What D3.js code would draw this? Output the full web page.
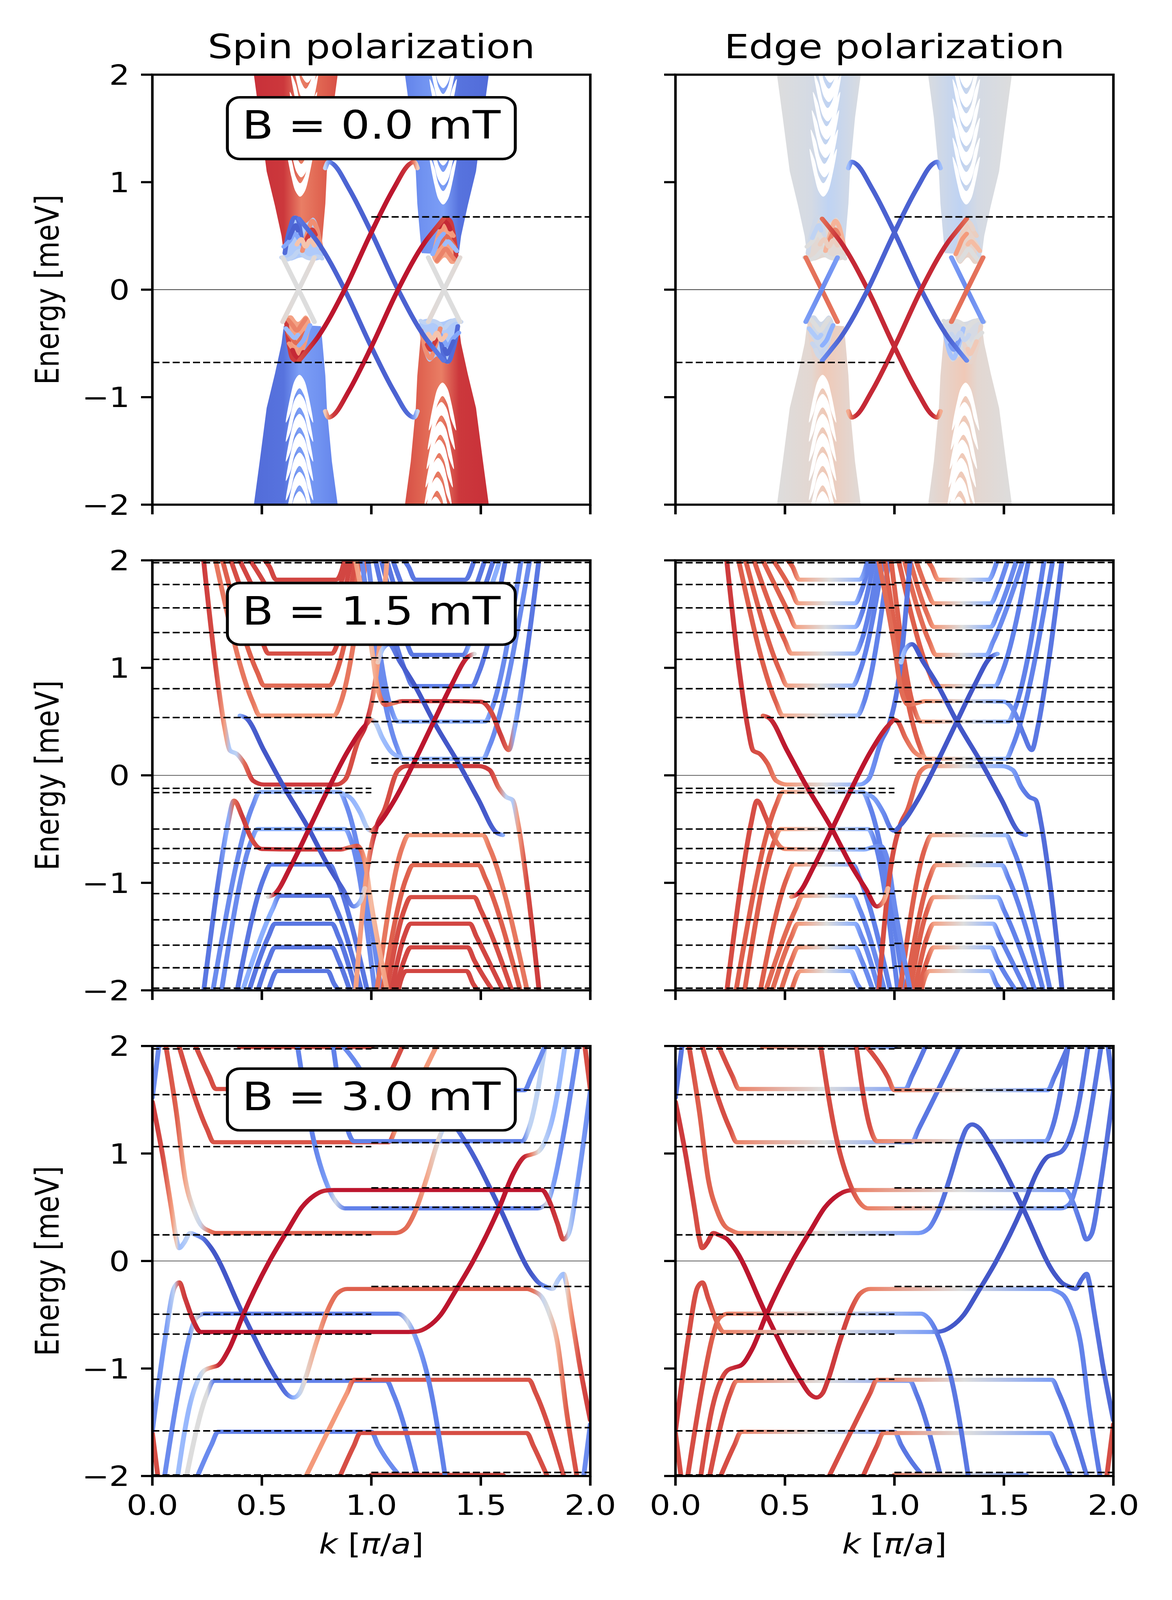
<!doctype html>
<html lang="en">
<head>
<meta charset="utf-8">
<title>Spin and edge polarization</title>
<script src="https://cdn.jsdelivr.net/npm/d3@7"></script>
<style>
  html, body { margin: 0; padding: 0; background: #fff; overflow: hidden; }
  svg { display: block; }
  text { font-family: "DejaVu Sans", sans-serif; }
</style>
</head>
<body>
<script>
// ---------- labels ----------
var columnTitles = ["Spin polarization", "Edge polarization"];
var fieldLabels = ["B = 0.0 mT", "B = 1.5 mT", "B = 3.0 mT"];
var kTicks = [0, 0.5, 1, 1.5, 2];
var kTickLabels = ["0.0", "0.5", "1.0", "1.5", "2.0"];
var eTicks = [2, 1, 0, -1, -2];
var eTickLabels = ["2", "1", "0", "\u22121", "\u22122"];

// every band point is [k, E, spin polarization, edge polarization]

// ---------- B = 0.0 mT ----------
var b00DashLeft = [-0.677];
var b00DashRight = [0.677];
// bulk wedges: top-left, bottom-left, top-right, bottom-right
var b00WedgePolys = [
  [[0.457,2.1],[0.49,1.6],[0.522,1.1],[0.56,0.78],[0.59,0.5],[0.60,0.34],[0.685,0.33],[0.77,0.34],[0.778,0.52],[0.79,0.8],[0.797,1.1],[0.82,1.6],[0.853,2.1]],
  [[0.457,-2.1],[0.49,-1.6],[0.522,-1.1],[0.56,-0.78],[0.59,-0.5],[0.60,-0.34],[0.685,-0.33],[0.77,-0.34],[0.778,-0.52],[0.79,-0.8],[0.797,-1.1],[0.82,-1.6],[0.853,-2.1]],
  [[1.147,2.1],[1.18,1.6],[1.203,1.1],[1.21,0.8],[1.222,0.52],[1.23,0.34],[1.315,0.33],[1.40,0.34],[1.41,0.5],[1.44,0.78],[1.478,1.1],[1.51,1.6],[1.543,2.1]],
  [[1.147,-2.1],[1.18,-1.6],[1.203,-1.1],[1.21,-0.8],[1.222,-0.52],[1.23,-0.34],[1.315,-0.33],[1.40,-0.34],[1.41,-0.5],[1.44,-0.78],[1.478,-1.1],[1.51,-1.6],[1.543,-2.1]]
];
var b00WedgeSpin = [
  [[0.457,0.88],[0.60,0.86],[0.68,0.62],[0.76,0.72],[0.853,0.8]],
  [[0.457,-0.85],[0.60,-0.82],[0.67,-0.6],[0.76,-0.66],[0.853,-0.75]],
  [[1.147,-0.75],[1.24,-0.66],[1.33,-0.6],[1.40,-0.82],[1.543,-0.85]],
  [[1.147,0.8],[1.24,0.72],[1.32,0.62],[1.40,0.86],[1.543,0.88]]
];
var b00WedgeEdge = [
  [[0.457,0],[0.62,-0.06],[0.70,-0.2],[0.853,-0.02]],
  [[0.457,0],[0.62,0.06],[0.68,0.2],[0.853,0.02]],
  [[1.147,-0.02],[1.30,-0.2],[1.38,-0.06],[1.543,0]],
  [[1.147,0.02],[1.32,0.2],[1.38,0.06],[1.543,0]]
];
// subband minima / maxima inside each wedge [k, E]
var b00Arcs = [
  [[0.675,0.83],[0.68,1.01],[0.685,1.19],[0.69,1.36],[0.695,1.53],[0.70,1.71],[0.707,1.89]],
  [[0.672,-0.757],[0.672,-0.935],[0.672,-1.12],[0.672,-1.30],[0.672,-1.48],[0.672,-1.66],[0.672,-1.84]],
  [[1.328,0.757],[1.328,0.935],[1.328,1.12],[1.328,1.30],[1.328,1.48],[1.328,1.66],[1.328,1.84]],
  [[1.325,-0.83],[1.32,-1.01],[1.315,-1.19],[1.31,-1.36],[1.305,-1.53],[1.30,-1.71],[1.293,-1.89]]
];
// mixed-state pockets at the wedge tips, with their spin / edge colour
var b00Blobs = [
  [[0.598,0.30],[0.61,0.45],[0.63,0.60],[0.648,0.69],[0.672,0.67],[0.70,0.62],[0.735,0.67],[0.76,0.58],[0.775,0.42],[0.778,0.30],[0.74,0.27],[0.68,0.30],[0.63,0.27]],
  [[0.607,-0.26],[0.612,-0.42],[0.628,-0.58],[0.645,-0.67],[0.665,-0.67],[0.69,-0.58],[0.712,-0.45],[0.722,-0.30],[0.70,-0.24],[0.665,-0.30],[0.635,-0.24]],
  [[1.393,0.26],[1.388,0.42],[1.372,0.58],[1.355,0.67],[1.335,0.67],[1.31,0.58],[1.288,0.45],[1.278,0.30],[1.30,0.24],[1.335,0.30],[1.365,0.24]],
  [[1.402,-0.30],[1.39,-0.45],[1.37,-0.60],[1.352,-0.69],[1.328,-0.67],[1.30,-0.62],[1.265,-0.67],[1.24,-0.58],[1.225,-0.42],[1.222,-0.30],[1.26,-0.27],[1.32,-0.30],[1.37,-0.27]]
];
var b00BlobSpin = [-0.3, 0.45, 0.45, -0.3];
var b00BlobEdge = [0.05, -0.1, 0.1, -0.05];
// loops inside the pockets: [spin, edge, points]
var b00Loops = [
  [-0.2, 0.0, [[0.59,0.30],[0.615,0.28],[0.645,0.31],[0.67,0.36],[0.695,0.31],[0.72,0.29],[0.75,0.31],[0.775,0.29]]],
  [-0.85, -0.1, [[0.605,0.34],[0.615,0.46],[0.63,0.58],[0.648,0.67],[0.663,0.66],[0.675,0.55],[0.685,0.42]]],
  [-0.55, 0.0, [[0.60,0.40],[0.625,0.45],[0.65,0.52],[0.67,0.47],[0.69,0.40]]],
  [-0.9, -0.2, [[0.625,0.48],[0.64,0.55],[0.655,0.60],[0.665,0.55]]],
  [0.55, 0.35, [[0.685,0.36],[0.70,0.47],[0.715,0.57],[0.73,0.64],[0.745,0.60],[0.76,0.49],[0.772,0.38]]],
  [0.85, 0.6, [[0.70,0.44],[0.715,0.51],[0.73,0.56],[0.745,0.51]]],
  [0.25, 0.15, [[0.66,0.42],[0.68,0.47],[0.70,0.40],[0.72,0.46],[0.74,0.41]]],
  [0.85, 0.1, [[0.612,-0.30],[0.618,-0.42],[0.628,-0.55],[0.64,-0.64],[0.655,-0.66],[0.665,-0.60]]],
  [0.6, 0.0, [[0.62,-0.28],[0.64,-0.33],[0.66,-0.38],[0.68,-0.33],[0.70,-0.27]]],
  [0.7, -0.1, [[0.62,-0.40],[0.64,-0.46],[0.66,-0.50],[0.68,-0.45],[0.70,-0.40]]],
  [0.5, -0.15, [[0.625,-0.50],[0.645,-0.56],[0.66,-0.60],[0.68,-0.55],[0.695,-0.50]]],
  [-0.4, -0.3, [[0.61,-0.36],[0.63,-0.41],[0.65,-0.45],[0.665,-0.42]]],
  [-0.5, -0.5, [[0.67,-0.52],[0.69,-0.47],[0.705,-0.40],[0.72,-0.33]]],
  [0.9, -0.1, [[0.64,-0.56],[0.655,-0.62],[0.672,-0.64],[0.69,-0.58]]],
  [0.85, -0.1, [[1.388,0.30],[1.382,0.42],[1.372,0.55],[1.36,0.64],[1.345,0.66],[1.335,0.60]]],
  [0.6, 0.0, [[1.38,0.28],[1.36,0.33],[1.34,0.38],[1.32,0.33],[1.30,0.27]]],
  [0.7, 0.1, [[1.38,0.40],[1.36,0.46],[1.34,0.50],[1.32,0.45],[1.30,0.40]]],
  [0.5, 0.15, [[1.375,0.50],[1.355,0.56],[1.34,0.60],[1.32,0.55],[1.305,0.50]]],
  [-0.4, 0.3, [[1.39,0.36],[1.37,0.41],[1.35,0.45],[1.335,0.42]]],
  [-0.5, 0.5, [[1.33,0.52],[1.31,0.47],[1.295,0.40],[1.28,0.33]]],
  [0.9, 0.1, [[1.36,0.56],[1.345,0.62],[1.328,0.64],[1.31,0.58]]],
  [-0.2, 0.0, [[1.41,-0.30],[1.385,-0.28],[1.355,-0.31],[1.33,-0.36],[1.305,-0.31],[1.28,-0.29],[1.25,-0.31],[1.225,-0.29]]],
  [-0.85, 0.1, [[1.395,-0.34],[1.385,-0.46],[1.37,-0.58],[1.352,-0.67],[1.337,-0.66],[1.325,-0.55],[1.315,-0.42]]],
  [-0.55, 0.0, [[1.40,-0.40],[1.375,-0.45],[1.35,-0.52],[1.33,-0.47],[1.31,-0.40]]],
  [-0.9, 0.2, [[1.375,-0.48],[1.36,-0.55],[1.345,-0.60],[1.335,-0.55]]],
  [0.55, -0.35, [[1.315,-0.36],[1.30,-0.47],[1.285,-0.57],[1.27,-0.64],[1.255,-0.60],[1.24,-0.49],[1.228,-0.38]]],
  [0.85, -0.6, [[1.30,-0.44],[1.285,-0.51],[1.27,-0.56],[1.255,-0.51]]],
  [0.25, -0.15, [[1.34,-0.42],[1.32,-0.47],[1.30,-0.40],[1.28,-0.46],[1.26,-0.41]]]
];
// bulk crossing lines at the wedge tips
var b00Cross = [
  [[0.595,0.30,0.0,0.65],[0.668,0.0,0.0,0.7],[0.74,-0.30,0.0,0.65]],
  [[0.595,-0.30,0.05,-0.6],[0.668,0.0,0.0,-0.7],[0.74,0.30,0.05,-0.6]],
  [[1.26,0.30,0.0,-0.6],[1.332,0.0,0.0,-0.7],[1.405,-0.30,0.0,-0.6]],
  [[1.26,-0.30,0.05,0.65],[1.332,0.0,0.0,0.7],[1.405,0.30,0.05,0.65]]
];
// helical edge states
var b00Edge = [
  [[0.79,1.13,-0.2,-0.4],[0.805,1.19,-0.6,-0.75],[0.825,1.17,-0.85,-0.9],[0.897,0.944,-0.9,-0.9],[1.003,0.52,-0.9,-0.9],[1.122,0.0,-0.9,-0.9],[1.244,-0.44,-0.9,-0.9],[1.29,-0.56,-0.8,-0.8],[1.33,-0.66,-0.8,-0.7]],
  [[0.67,0.66,-0.8,0.7],[0.71,0.56,-0.85,0.8],[0.756,0.44,-0.9,0.9],[0.878,0.0,-0.9,0.9],[0.997,-0.52,-0.9,0.9],[1.103,-0.944,-0.9,0.9],[1.175,-1.17,-0.85,0.9],[1.195,-1.19,-0.6,0.75],[1.21,-1.13,-0.2,0.4]],
  [[0.67,-0.66,0.8,-0.7],[0.71,-0.56,0.85,-0.8],[0.756,-0.44,0.95,-0.9],[0.878,0.0,0.95,-0.9],[0.997,0.52,0.95,-0.9],[1.103,0.944,0.95,-0.9],[1.175,1.17,0.85,-0.9],[1.195,1.19,0.6,-0.75],[1.21,1.13,0.2,-0.4]],
  [[0.79,-1.13,0.2,0.4],[0.805,-1.19,0.6,0.75],[0.825,-1.17,0.85,0.9],[0.897,-0.944,0.95,0.9],[1.003,-0.52,0.95,0.9],[1.122,0.0,0.95,0.9],[1.244,0.44,0.95,0.9],[1.29,0.56,0.85,0.8],[1.33,0.66,0.8,0.7]]
];

// ---------- B = 1.5 mT ----------
var b15DashLeft = [1.978, 1.775, 1.558, 1.328, 1.079, 0.806, 0.538, -0.121, -0.161, -0.50, -0.681, -0.816, -1.10, -1.344, -1.58, -1.79, -1.98];
var b15DashRight = [1.98, 1.791, 1.58, 1.35, 1.093, 0.817, 0.684, 0.50, 0.155, 0.115, -0.535, -0.808, -1.076, -1.331, -1.564, -1.776, -1.98];
// Landau plateaus: [E, k arm end L, k flat start, k flat end, k arm end R, spin L, spin flat, spin R, edge arm, edge flat]
var b15Up = [
  [0.556, 0.28, 0.49, 0.83, 0.98, 0.65, 0.5, 0.65, 0.75, 0.4],
  [0.835, 0.31, 0.51, 0.81, 0.955, 0.75, 0.7, 0.75, 0.75, 0.45],
  [1.133, 0.345, 0.53, 0.82, 0.935, 0.8, 0.8, 0.8, 0.75, 0.45],
  [1.38, 0.38, 0.55, 0.82, 0.915, 0.82, 0.82, 0.82, 0.75, 0.45],
  [1.60, 0.42, 0.56, 0.82, 0.90, 0.82, 0.82, 0.82, 0.75, 0.45],
  [1.82, 0.47, 0.565, 0.84, 0.885, 0.82, 0.82, 0.82, 0.75, 0.45],
  [0.154, 0.95, 1.145, 1.51, 1.73, -0.7, -0.45, -0.7, 0.75, 0.45],
  [0.50, 0.98, 1.12, 1.52, 1.69, -0.7, -0.5, -0.7, 0.75, 0.45],
  [0.83, 1.01, 1.19, 1.46, 1.62, -0.8, -0.75, -0.8, 0.75, 0.5],
  [1.12, 1.035, 1.19, 1.42, 1.60, -0.8, -0.8, -0.5, 0.7, 0.5],
  [1.38, 1.06, 1.18, 1.44, 1.57, -0.8, -0.8, -0.8, 0.7, 0.5],
  [1.60, 1.085, 1.18, 1.44, 1.53, -0.8, -0.8, -0.8, 0.7, 0.5],
  [1.82, 1.11, 1.20, 1.43, 1.48, -0.8, -0.8, -0.8, 0.7, 0.5]
];
var b15Down = [
  [-0.154, 0.27, 0.49, 0.855, 1.05, -0.7, -0.45, -0.7, 0.75, 0.45],
  [-0.50, 0.31, 0.48, 0.88, 1.02, -0.7, -0.5, -0.7, 0.75, 0.45],
  [-0.83, 0.38, 0.54, 0.81, 0.99, -0.8, -0.75, -0.8, 0.75, 0.5],
  [-1.12, 0.40, 0.58, 0.81, 0.965, -0.5, -0.8, -0.8, 0.7, 0.5],
  [-1.38, 0.43, 0.56, 0.82, 0.94, -0.8, -0.8, -0.8, 0.7, 0.5],
  [-1.60, 0.47, 0.56, 0.82, 0.915, -0.8, -0.8, -0.8, 0.7, 0.5],
  [-1.82, 0.52, 0.57, 0.80, 0.89, -0.8, -0.8, -0.8, 0.7, 0.5],
  [-0.556, 1.02, 1.17, 1.51, 1.72, 0.65, 0.5, 0.65, 0.75, 0.4],
  [-0.835, 1.045, 1.19, 1.49, 1.69, 0.75, 0.7, 0.75, 0.75, 0.45],
  [-1.133, 1.065, 1.18, 1.47, 1.655, 0.8, 0.8, 0.8, 0.75, 0.45],
  [-1.38, 1.085, 1.18, 1.45, 1.62, 0.82, 0.82, 0.82, 0.75, 0.45],
  [-1.60, 1.10, 1.18, 1.44, 1.58, 0.82, 0.82, 0.82, 0.75, 0.45],
  [-1.82, 1.115, 1.16, 1.435, 1.53, 0.82, 0.82, 0.82, 0.75, 0.45]
];
var b15Hybrid = [
  [[0.23,2.08,0.85,0.85],[0.29,1.0,0.8,0.85],[0.33,0.45,0.45,0.85],[0.355,0.23,-0.3,0.8],[0.385,0.20,-0.2,0.8],[0.42,0.11,0.7,0.75],[0.46,-0.05,0.85,0.6],[0.51,-0.086,0.85,0.5],[0.68,-0.086,0.85,0],[0.84,-0.086,0.85,-0.5],[0.88,-0.04,0.8,-0.65],[0.94,0.32,0.8,-0.75],[0.975,0.47,0.9,-0.8],[1.02,0.9,0.5,-0.8],[1.075,2.08,0.45,-0.8]],
  [[0.23,-2.08,-0.8,0.8],[0.30,-1.0,-0.8,0.8],[0.345,-0.45,-0.5,0.8],[0.373,-0.235,0.7,0.8],[0.41,-0.38,0.85,0.8],[0.45,-0.58,0.8,0.7],[0.50,-0.685,0.85,0.55],[0.68,-0.69,0.85,0],[0.86,-0.69,0.85,-0.5],[0.90,-0.67,0.6,-0.6],[0.935,-0.655,0.8,-0.7],[0.97,-0.80,0.5,-0.7],[1.0,-1.2,0.3,-0.7],[1.08,-2.08,0.5,-0.7]],
  [[0.925,-2.08,0.45,0.8],[0.98,-0.9,0.5,0.8],[1.025,-0.47,0.9,0.8],[1.06,-0.32,0.8,0.75],[1.12,0.04,0.8,0.65],[1.16,0.086,0.85,0.5],[1.32,0.086,0.85,0],[1.49,0.086,0.85,-0.5],[1.54,0.05,0.85,-0.6],[1.58,-0.11,0.7,-0.75],[1.615,-0.20,-0.2,-0.8],[1.645,-0.23,-0.3,-0.8],[1.67,-0.45,0.45,-0.85],[1.71,-1.0,0.8,-0.85],[1.77,-2.08,0.85,-0.85]],
  [[0.92,2.08,0.5,0.7],[1.0,1.2,0.3,0.7],[1.03,0.80,0.5,0.7],[1.065,0.655,0.8,0.7],[1.10,0.67,0.6,0.6],[1.14,0.69,0.85,0.5],[1.32,0.69,0.85,0],[1.50,0.685,0.85,-0.55],[1.55,0.58,0.8,-0.7],[1.59,0.38,0.85,-0.8],[1.627,0.235,0.7,-0.8],[1.655,0.45,-0.5,-0.8],[1.70,1.0,-0.8,-0.8],[1.77,2.08,-0.8,-0.8]]
];
var b15EdgeStates = [
  [[0.40,0.555,-0.5,0.7],[0.43,0.53,-0.9,0.9],[0.51,0.23,-0.95,0.95],[0.59,-0.07,-0.95,0.95],[0.715,-0.50,-0.95,0.95],[0.80,-0.83,-0.95,0.95],[0.87,-1.06,-0.9,0.95],[0.92,-1.22,-0.7,0.9],[0.95,-1.17,-0.3,0.5],[0.97,-1.05,0.2,0.3]],
  [[0.53,-1.13,0.0,0.5],[0.56,-1.10,0.9,0.95],[0.633,-0.843,0.95,0.95],[0.715,-0.50,0.95,0.95],[0.797,-0.153,0.95,0.95],[0.893,0.226,0.95,0.95],[0.975,0.47,0.95,0.9],[1.0,0.515,0.6,0.85],[1.015,0.5,-0.2,0.8],[1.05,0.35,-0.4,0.7],[1.09,0.22,-0.45,0.6],[1.13,0.17,-0.45,0.5]],
  [[1.03,1.05,0.2,-0.3],[1.05,1.17,-0.3,-0.5],[1.08,1.22,-0.7,-0.9],[1.13,1.06,-0.9,-0.95],[1.20,0.83,-0.95,-0.95],[1.285,0.50,-0.95,-0.95],[1.41,0.07,-0.95,-0.95],[1.49,-0.23,-0.95,-0.95],[1.57,-0.53,-0.9,-0.9],[1.60,-0.555,-0.5,-0.7]],
  [[0.87,-0.17,-0.45,-0.5],[0.91,-0.22,-0.45,-0.6],[0.95,-0.35,-0.4,-0.7],[0.985,-0.5,-0.2,-0.8],[1.0,-0.515,0.6,-0.85],[1.025,-0.47,0.95,-0.9],[1.107,-0.226,0.95,-0.95],[1.203,0.153,0.95,-0.95],[1.285,0.50,0.95,-0.95],[1.367,0.843,0.95,-0.95],[1.44,1.10,0.9,-0.95],[1.47,1.13,0.0,-0.5]]
];

// ---------- B = 3.0 mT ----------
var b30DashLeft = [1.973, 1.547, 1.064, 0.243, -0.495, -0.68, -1.10, -1.58, -1.99];
var b30DashRight = [1.98, 1.59, 1.10, 0.68, 0.50, -0.237, -1.059, -1.55, -1.967];
var b30Up = [
  [1.105, 0.11, 0.28, 1.08, 1.317, 0.8, 0.78, 0.5, 0.8, 0.6],
  [1.60, 0.18, 0.29, 1.05, 1.16, 0.8, 0.8, 0.8, 0.8, 0.6],
  [1.99, 0.33, 0.40, 1.00, 1.07, 0.8, 0.8, 0.8, 0.8, 0.6],
  [1.115, 0.82, 0.92, 1.69, 1.80, -0.75, -0.75, -0.2, 0.8, 0.6],
  [1.589, 0.834, 1.0, 1.70, 1.81, -0.7, -0.75, -0.7, 0.8, 0.6]
];
var b30Down = [
  [-1.115, 0.148, 0.28, 1.07, 1.22, 0.0, -0.75, -0.75, 0.8, 0.6],
  [-1.589, 0.19, 0.30, 1.0, 1.166, -0.7, -0.75, -0.7, 0.8, 0.6],
  [-1.105, 0.683, 0.92, 1.72, 1.89, 0.5, 0.78, 0.8, 0.8, 0.6],
  [-1.60, 0.84, 0.95, 1.71, 1.82, 0.8, 0.8, 0.8, 0.8, 0.6],
  [-1.99, 0.93, 1.0, 1.60, 1.67, 0.8, 0.8, 0.8, 0.8, 0.6]
];
var b30Hybrid = [
  [[0.05,-2.08,-0.7,0.8],[0.12,-1.2,-0.7,0.8],[0.17,-0.7,-0.6,0.75],[0.20,-0.53,0.0,0.7],[0.24,-0.49,-0.75,0.6],[0.68,-0.49,-0.75,0],[1.12,-0.49,-0.75,-0.6],[1.165,-0.56,-0.1,-0.7],[1.20,-0.70,-0.6,-0.8],[1.265,-1.14,-0.75,-0.8],[1.343,-2.08,-0.75,-0.8]],
  [[0.657,2.08,-0.75,0.8],[0.735,1.14,-0.75,0.8],[0.80,0.70,-0.6,0.8],[0.835,0.56,-0.1,0.7],[0.88,0.49,-0.75,0.6],[1.32,0.49,-0.75,0],[1.76,0.49,-0.75,-0.6],[1.80,0.53,0.0,-0.7],[1.83,0.70,-0.6,-0.75],[1.88,1.2,-0.7,-0.8],[1.95,2.08,-0.7,-0.8]],
  [[0.0,1.52,-0.7,-0.8],[0.035,2.08,-0.7,-0.8]],
  [[0.0,-1.6,0.8,0.8],[0.03,-2.08,0.8,0.8]],
  [[1.965,-2.08,-0.7,0.8],[2.0,-1.52,-0.7,0.8]],
  [[1.97,2.08,0.8,-0.8],[2.0,1.6,0.8,-0.8]]
];
var b30EdgeStates = [
  [[0.0,1.48,0.85,0.85],[0.05,0.95,0.8,0.85],[0.09,0.45,0.5,0.8],[0.11,0.2,0.1,0.8],[0.122,0.12,-0.4,0.8],[0.145,0.17,-0.3,0.85],[0.173,0.26,-0.15,0.85],[0.20,0.24,-0.6,0.9],[0.237,0.20,-0.85,0.95],[0.269,0.12,-0.95,0.95],[0.415,-0.50,-0.95,0.95],[0.568,-1.10,-0.9,0.95],[0.615,-1.24,-0.8,0.9],[0.645,-1.27,-0.5,0.9],[0.672,-1.23,-0.2,0.85],[0.696,-1.11,0.05,0.85],[0.747,-0.77,0.4,0.85],[0.80,-0.46,0.65,0.8],[0.845,-0.30,0.7,0.7],[0.89,-0.26,0.75,0.6],[1.30,-0.26,0.75,0],[1.71,-0.26,0.75,-0.6],[1.74,-0.28,0.65,-0.65],[1.78,-0.34,-0.15,-0.7],[1.81,-0.47,0.0,-0.7],[1.85,-0.76,0.4,-0.75],[1.89,-1.38,0.75,-0.75],[1.945,-2.08,0.8,-0.8]],
  [[0.055,2.08,0.8,0.8],[0.11,1.38,0.75,0.75],[0.15,0.76,0.4,0.75],[0.19,0.47,0.0,0.7],[0.22,0.34,-0.15,0.7],[0.26,0.28,0.65,0.65],[0.29,0.26,0.75,0.6],[0.70,0.26,0.75,0],[1.11,0.26,0.75,-0.6],[1.155,0.30,0.7,-0.7],[1.20,0.46,0.65,-0.8],[1.253,0.77,0.4,-0.85],[1.304,1.11,0.05,-0.85],[1.328,1.23,-0.2,-0.85],[1.355,1.27,-0.5,-0.9],[1.385,1.24,-0.8,-0.9],[1.432,1.10,-0.9,-0.95],[1.585,0.50,-0.95,-0.95],[1.731,-0.12,-0.95,-0.95],[1.763,-0.20,-0.85,-0.95],[1.80,-0.24,-0.6,-0.9],[1.827,-0.26,-0.15,-0.85],[1.855,-0.17,-0.3,-0.85],[1.878,-0.12,-0.4,-0.8],[1.89,-0.2,0.1,-0.8],[1.91,-0.45,0.5,-0.8],[1.95,-0.95,0.8,-0.85],[2.0,-1.48,0.85,-0.85]],
  [[0.11,-2.08,-0.4,0.8],[0.17,-1.35,-0.45,0.8],[0.215,-1.08,-0.2,0.8],[0.236,-1.02,0.0,0.85],[0.27,-0.99,0.6,0.9],[0.30,-0.97,0.9,0.95],[0.35,-0.82,0.95,0.95],[0.415,-0.50,0.95,0.95],[0.535,0.0,0.95,0.95],[0.619,0.29,0.95,0.95],[0.683,0.50,0.95,0.95],[0.74,0.61,0.95,0.95],[0.79,0.655,0.9,0.9],[0.83,0.66,0.95,0.6],[1.30,0.66,0.95,0],[1.78,0.66,0.95,-0.6],[1.81,0.57,0.9,-0.7],[1.85,0.35,0.85,-0.8],[1.877,0.2,0.8,-0.8],[1.90,0.25,-0.2,-0.8],[1.94,0.7,-0.6,-0.8],[2.0,1.58,-0.7,-0.85]],
  [[0.0,-1.58,-0.7,0.85],[0.06,-0.7,-0.6,0.8],[0.10,-0.25,-0.2,0.8],[0.123,-0.2,0.8,0.8],[0.15,-0.35,0.85,0.8],[0.19,-0.57,0.9,0.7],[0.22,-0.66,0.95,0.6],[0.70,-0.66,0.95,0],[1.17,-0.66,0.95,-0.6],[1.21,-0.655,0.9,-0.9],[1.26,-0.61,0.95,-0.95],[1.317,-0.50,0.95,-0.95],[1.381,-0.29,0.95,-0.95],[1.465,0.0,0.95,-0.95],[1.585,0.50,0.95,-0.95],[1.65,0.82,0.95,-0.95],[1.70,0.97,0.9,-0.95],[1.73,0.99,0.6,-0.9],[1.764,1.02,0.0,-0.85],[1.785,1.08,-0.2,-0.8],[1.83,1.35,-0.45,-0.8],[1.89,2.08,-0.4,-0.8]]
];

// ---------- layout ----------
var W = 3000, H = 4800;
var colLeft = [390, 1729], rowTop = [224, 1681, 3138];
var panelW = 1121, panelH = 1290;
var x = d3.scaleLinear().domain([0, 2]).range([0, panelW]);
var y = d3.scaleLinear().domain([-2, 2]).range([panelH, 0]);

// matplotlib coolwarm
var cw = d3.scaleLinear()
  .domain([-1, -0.75, -0.5, -0.25, 0, 0.25, 0.5, 0.75, 1])
  .range(["#3b4cc0", "#6282ea", "#8db0fe", "#b8d0f9", "#dddddd", "#f5c4ad", "#f49a7b", "#de604d", "#b40426"])
  .clamp(true);

// the figure is laid out on a 3000 x 4800 canvas and fitted to the window
var viewW = window.innerWidth || W, viewH = Math.min(window.innerHeight || H, H);
var svg = d3.select("body").append("svg")
  .attr("width", viewW).attr("height", viewH)
  .attr("viewBox", "0 0 " + W + " " + H)
  .attr("preserveAspectRatio", "none");
svg.append("rect").attr("width", W).attr("height", H).attr("fill", "#fff");
var defs = svg.append("defs");
defs.append("clipPath").attr("id", "clip")
  .append("rect").attr("width", panelW).attr("height", panelH);

var gradCount = 0;
function gradient(stops) {
  var id = "grad" + (gradCount++);
  var x0 = x(stops[0][0]), x1 = x(stops[stops.length - 1][0]);
  if (x1 - x0 < 0.5) x1 = x0 + 0.5;
  var lg = defs.append("linearGradient").attr("id", id)
    .attr("gradientUnits", "userSpaceOnUse")
    .attr("x1", x0).attr("x2", x1).attr("y1", 0).attr("y2", 0);
  stops.forEach(function (s) {
    var o = Math.max(0, Math.min(1, (x(s[0]) - x0) / (x1 - x0)));
    lg.append("stop").attr("offset", o.toFixed(4)).attr("stop-color", cw(s[1]));
  });
  return "url(#" + id + ")";
}

// plateau band from a level spec; dir = +1 arms up, -1 arms down
function plateau(s, dir) {
  var end = 2.08 * dir;
  return [
    [s[1], end, s[5], s[8]],
    [s[2] - 0.03, s[0] + 0.12 * dir, s[5], s[8]],
    [s[2], s[0], s[6], s[9]],
    [(s[2] + s[3]) / 2, s[0], s[6], 0],
    [s[3], s[0], s[6], -s[9]],
    [s[3] + 0.03, s[0] + 0.12 * dir, s[7], -s[8]],
    [s[4], end, s[7], -s[8]]
  ];
}

function px(d) { return x(d[0]); }
function py(d) { return y(d[1]); }
var bandLine = d3.line().x(px).y(py).curve(d3.curveMonotoneX);
var polyLine = d3.line().x(px).y(py).curve(d3.curveLinearClosed);
var loopLine = d3.line().x(px).y(py).curve(d3.curveCatmullRom);
var blobLine = d3.line().x(px).y(py).curve(d3.curveCatmullRomClosed);
// white gap between neighbouring subbands, relative to a subband extremum
var gapShape = [[-0.062,0.48],[-0.04,0.22],[-0.02,0.08],[0,0.035],[0.02,0.08],[0.04,0.22],[0.062,0.48],[0.04,0.38],[0.02,0.22],[0,0.16],[-0.02,0.22],[-0.04,0.38]];

function drawBand(g, pts, ci) {
  g.append("path").attr("d", bandLine(pts)).attr("fill", "none")
    .attr("stroke", gradient(pts.map(function (p) { return [p[0], p[ci]]; })))
    .attr("stroke-width", 12.5).attr("stroke-linecap", "round").attr("stroke-linejoin", "round");
}

var rows = [
  { label: fieldLabels[0], dashL: b00DashLeft, dashR: b00DashRight,
    bands: b00Cross.concat(b00Edge) },
  { label: fieldLabels[1], dashL: b15DashLeft, dashR: b15DashRight,
    bands: b15Up.map(function (s) { return plateau(s, 1); })
      .concat(b15Down.map(function (s) { return plateau(s, -1); }), b15Hybrid, b15EdgeStates) },
  { label: fieldLabels[2], dashL: b30DashLeft, dashR: b30DashRight,
    bands: b30Up.map(function (s) { return plateau(s, 1); })
      .concat(b30Down.map(function (s) { return plateau(s, -1); }), b30Hybrid, b30EdgeStates) }
];

rows.forEach(function (row, r) {
  [0, 1].forEach(function (c) {
    var ci = c === 0 ? 2 : 3;
    var g = svg.append("g").attr("transform", "translate(" + colLeft[c] + "," + rowTop[r] + ")");
    var plot = g.append("g").attr("clip-path", "url(#clip)");

    plot.append("line").attr("x1", 0).attr("x2", panelW).attr("y1", y(0)).attr("y2", y(0))
      .attr("stroke", "#000").attr("stroke-width", 1.6);

    if (r === 0) {
      b00WedgePolys.forEach(function (poly, i) {
        var stops = c === 0 ? b00WedgeSpin[i] : b00WedgeEdge[i];
        plot.append("path").attr("d", polyLine(poly)).attr("fill", gradient(stops));
        b00Arcs[i].forEach(function (a) {
          var dir = a[1] > 0 ? 1 : -1;
          var pts = gapShape.map(function (p) { return [a[0] + p[0], a[1] + dir * p[1]]; });
          plot.append("path").attr("d", blobLine(pts)).attr("fill", "#fff");
        });
        plot.append("path").attr("d", blobLine(b00Blobs[i]))
          .attr("fill", cw(c === 0 ? b00BlobSpin[i] : b00BlobEdge[i]));
      });
      b00Loops.forEach(function (b) {
        plot.append("path").attr("d", loopLine(b[2])).attr("fill", "none")
          .attr("stroke", cw(c === 0 ? b[0] : b[1])).attr("stroke-width", 12)
          .attr("stroke-linecap", "round").attr("stroke-linejoin", "round");
      });
    }

    row.bands.forEach(function (pts) { drawBand(plot, pts, ci); });

    row.dashL.forEach(function (e) {
      plot.append("line").attr("x1", x(0)).attr("x2", x(1)).attr("y1", y(e)).attr("y2", y(e))
        .attr("stroke", "#000").attr("stroke-width", 4.5).attr("stroke-dasharray", "18,8");
    });
    row.dashR.forEach(function (e) {
      plot.append("line").attr("x1", x(1)).attr("x2", x(2)).attr("y1", y(e)).attr("y2", y(e))
        .attr("stroke", "#000").attr("stroke-width", 4.5).attr("stroke-dasharray", "18,8");
    });

    if (c === 0) {
      g.append("rect").attr("x", panelW / 2 - 368.5).attr("y", 68).attr("width", 737).attr("height", 185)
        .attr("rx", 32).attr("fill", "#fff").attr("stroke", "#000").attr("stroke-width", 7.5);
      g.append("text").attr("x", panelW / 2).attr("y", 192.5).attr("text-anchor", "middle")
        .attr("font-size", 117).text(row.label);
    }

    // spines
    g.append("rect").attr("width", panelW).attr("height", panelH)
      .attr("fill", "none").attr("stroke", "#000").attr("stroke-width", 6.5);
    // ticks
    eTicks.forEach(function (v, i) {
      g.append("line").attr("x1", 0).attr("x2", -29).attr("y1", y(v)).attr("y2", y(v))
        .attr("stroke", "#000").attr("stroke-width", 6.5);
      if (c === 0) {
        g.append("text").attr("x", -58).attr("y", y(v) + 30).attr("text-anchor", "end")
          .attr("font-size", 83).text(eTickLabels[i]);
      }
    });
    kTicks.forEach(function (v, i) {
      g.append("line").attr("x1", x(v)).attr("x2", x(v)).attr("y1", panelH).attr("y2", panelH + 29)
        .attr("stroke", "#000").attr("stroke-width", 6.5);
      if (r === 2) {
        g.append("text").attr("x", x(v)).attr("y", panelH + 117).attr("text-anchor", "middle")
          .attr("font-size", 83).text(kTickLabels[i]);
      }
    });
    if (r === 2) {
      var xl = g.append("text").attr("x", panelW / 2).attr("y", panelH + 232)
        .attr("text-anchor", "middle").attr("font-size", 83);
      xl.append("tspan").attr("font-style", "italic").text("k");
      xl.append("tspan").text(" [");
      xl.append("tspan").attr("font-style", "italic").text("\u03c0");
      xl.append("tspan").text("/");
      xl.append("tspan").attr("font-style", "italic").text("a");
      xl.append("tspan").text("]");
    }
    if (r === 0) {
      svg.append("text").attr("x", colLeft[c] + panelW / 2).attr("y", 175)
        .attr("text-anchor", "middle").attr("font-size", 100).text(columnTitles[c]);
    }
  });
  svg.append("text").attr("transform", "translate(150," + (rowTop[r] + panelH / 2) + ") rotate(-90)")
    .attr("text-anchor", "middle").attr("font-size", 83).text("Energy [meV]");
});
</script>
</body>
</html>
